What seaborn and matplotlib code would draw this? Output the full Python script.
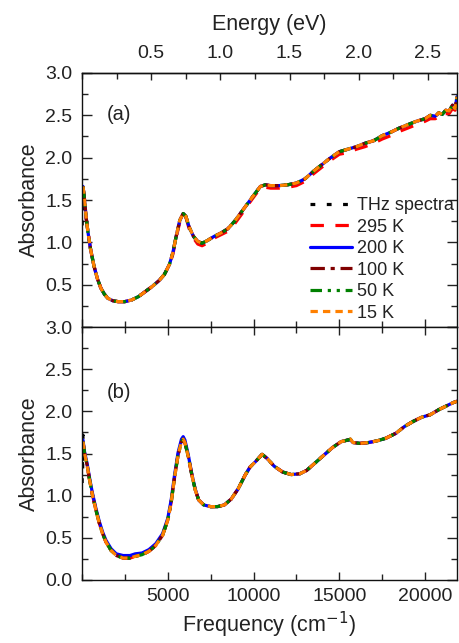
import matplotlib
matplotlib.use("Agg")
import matplotlib.pyplot as plt
import seaborn as sns
import pandas as pd
from matplotlib.ticker import MultipleLocator, FixedLocator, FuncFormatter

# ---------------- data ----------------
thz_freq = [10, 25, 40, 55, 70, 85, 100, 115]
a_thz = [1.20, 1.55, 1.35, 1.62, 1.40, 1.58, 1.50, 1.45]
b_thz = [1.15, 1.60, 1.30, 1.72, 1.40, 1.55, 1.45, 1.50]

a_freq = [60, 150, 250, 350, 500, 700, 900, 1100, 1300, 1500,
          1800, 2100, 2500, 2900, 3300, 3700, 4100, 4500, 4800, 5100,
          5300, 5500, 5700, 5900, 6050, 6250, 6500, 6750, 7000, 7300,
          7700, 8100, 8500, 8900, 9300, 9700, 10100, 10400, 10700, 11000,
          11500, 12000, 12500, 13000, 13500, 14000, 14500, 15000, 15500, 16000,
          16500, 17000, 17500, 18000, 18500, 19000, 19500, 20000, 20300, 20600,
          20800, 21000, 21200, 21400, 21600, 21750, 21860]
a_cold = [1.66, 1.50, 1.28, 1.12, 0.92, 0.72, 0.57, 0.46, 0.39, 0.34,
          0.31, 0.30, 0.30, 0.32, 0.36, 0.42, 0.48, 0.55, 0.62, 0.74,
          0.88, 1.08, 1.26, 1.34, 1.31, 1.18, 1.07, 1.01, 0.99, 1.02,
          1.07, 1.11, 1.16, 1.25, 1.36, 1.47, 1.58, 1.66, 1.68, 1.67,
          1.67, 1.68, 1.70, 1.75, 1.84, 1.92, 2.00, 2.07, 2.10, 2.13,
          2.17, 2.20, 2.26, 2.30, 2.35, 2.39, 2.43, 2.46, 2.50, 2.49,
          2.53, 2.51, 2.56, 2.55, 2.62, 2.58, 2.72]
a_295 = [1.66, 1.50, 1.28, 1.12, 0.92, 0.72, 0.57, 0.46, 0.39, 0.34,
         0.31, 0.30, 0.30, 0.32, 0.36, 0.42, 0.48, 0.55, 0.62, 0.73,
         0.86, 1.06, 1.24, 1.33, 1.30, 1.16, 1.05, 0.98, 0.96, 0.99,
         1.05, 1.09, 1.13, 1.22, 1.33, 1.45, 1.56, 1.64, 1.65, 1.64,
         1.64, 1.65, 1.67, 1.72, 1.81, 1.89, 1.97, 2.04, 2.06, 2.10,
         2.13, 2.17, 2.22, 2.26, 2.31, 2.35, 2.39, 2.43, 2.46, 2.46,
         2.49, 2.48, 2.52, 2.52, 2.58, 2.56, 2.66]

b_freq = [60, 150, 300, 450, 600, 800, 1000, 1200, 1400, 1700,
          2000, 2400, 2800, 3100, 3500, 3900, 4300, 4700, 5000, 5200,
          5400, 5600, 5800, 5900, 6000, 6200, 6400, 6600, 6800, 7100,
          7500, 7900, 8300, 8700, 9100, 9500, 9800, 10100, 10500, 10800,
          11200, 11700, 12200, 12700, 13100, 13600, 14100, 14600, 15100, 15500,
          15650, 15800, 16200, 16700, 17200, 17700, 18300, 18800, 19300, 19800,
          20300, 20800, 21200, 21600, 21860]
b_common = [1.64, 1.50, 1.36, 1.18, 1.02, 0.84, 0.68, 0.55, 0.45, 0.35,
            0.29, 0.26, 0.26, 0.28, 0.30, 0.34, 0.41, 0.53, 0.71, 0.92,
            1.22, 1.48, 1.64, 1.67, 1.63, 1.46, 1.25, 1.07, 0.95, 0.89,
            0.87, 0.87, 0.89, 0.96, 1.08, 1.24, 1.34, 1.40, 1.49, 1.44,
            1.35, 1.28, 1.25, 1.26, 1.30, 1.39, 1.48, 1.57, 1.64, 1.66,
            1.67, 1.63, 1.62, 1.63, 1.65, 1.68, 1.74, 1.82, 1.88, 1.93,
            1.96, 2.02, 2.06, 2.10, 2.12]
b_200 = [1.66, 1.52, 1.38, 1.20, 1.04, 0.86, 0.70, 0.57, 0.47, 0.37,
         0.31, 0.29, 0.29, 0.31, 0.32, 0.36, 0.43, 0.55, 0.73, 0.95,
         1.25, 1.51, 1.67, 1.70, 1.66, 1.48, 1.26, 1.08, 0.95, 0.89,
         0.87, 0.87, 0.89, 0.96, 1.08, 1.24, 1.34, 1.40, 1.49, 1.44,
         1.35, 1.28, 1.25, 1.26, 1.30, 1.39, 1.48, 1.57, 1.64, 1.66,
         1.66, 1.63, 1.62, 1.63, 1.65, 1.68, 1.74, 1.82, 1.88, 1.93,
         1.96, 2.02, 2.06, 2.10, 2.12]

labels = ["THz spectra", "295 K", "200 K", "100 K", "50 K", "15 K"]
panel_a = [(thz_freq, a_thz), (a_freq, a_295), (a_freq, a_cold),
           (a_freq, a_cold), (a_freq, a_cold), (a_freq, a_cold)]
panel_b = [(thz_freq, b_thz), (b_freq, b_common), (b_freq, b_200),
           (b_freq, b_common), (b_freq, b_common), (b_freq, b_common)]

colors = ["black", "#FF0000", "#0000FF", "#800000", "#008000", "#FF8000"]
linestyles = [(0, (1.5, 3.6)), (0, (4.2, 3.6)), "-", (0, (4.5, 1.8, 1.3, 1.8)),
              (0, (3.6, 1.8, 1, 1.8, 1, 1.8)), (0, (2.3, 1.6))]

# ---------------- style ----------------
sns.set_theme(style="ticks")
plt.rcParams["font.family"] = ["Liberation Sans", "DejaVu Sans"]
plt.rcParams["axes.linewidth"] = 1.0
txt = "#222222"
plt.rcParams["text.color"] = txt
plt.rcParams["axes.labelcolor"] = txt
plt.rcParams["xtick.color"] = txt
plt.rcParams["ytick.color"] = txt
plt.rcParams["axes.edgecolor"] = "#111111"

fig = plt.figure(figsize=(4.59, 6.43), dpi=100)
ax_a = fig.add_axes([0.1786, 0.4914, 0.817, 0.3951])
ax_b = fig.add_axes([0.1786, 0.0980, 0.817, 0.3934])

handles = []
for ax, series in ((ax_a, panel_a), (ax_b, panel_b)):
    for (fx, fy), lab, c, ls in zip(series, labels, colors, linestyles):
        df = pd.DataFrame({"freq": fx, "abs": fy})
        sns.lineplot(data=df, x="freq", y="abs", ax=ax, color=c, lw=2.3,
                     sort=False, estimator=None, legend=False)
        ln = ax.lines[-1]
        ln.set_linestyle(ls)
        if ax is ax_a:
            ln.set_label(lab)
            handles.append(ln)

for ax in (ax_a, ax_b):
    ax.set_xlim(0, 21860)
    ax.set_ylim(0, 3.0)
    ax.xaxis.set_major_locator(MultipleLocator(5000))
    ax.xaxis.set_minor_locator(MultipleLocator(2500))
    ax.yaxis.set_major_locator(MultipleLocator(0.5))
    ax.yaxis.set_minor_locator(MultipleLocator(0.25))
    ax.yaxis.set_major_formatter(FuncFormatter(lambda v, p: f"{v:.1f}"))
    ax.tick_params(axis="both", which="both", direction="in", right=True,
                   labelsize=14, width=1.0)
    ax.tick_params(axis="y", which="major", length=7, pad=7)
    ax.tick_params(axis="y", which="minor", length=4)
    ax.tick_params(axis="x", which="major", length=6, pad=6)
    ax.tick_params(axis="x", which="minor", length=4)
    ax.set_ylabel("Absorbance", fontsize=15.5, labelpad=4)
    ax.grid(False)

ax_a.tick_params(axis="x", which="both", top=False, labelbottom=False)
ax_a.yaxis.set_major_formatter(FuncFormatter(lambda v, p: "" if v < 0.25 else f"{v:.1f}"))
ax_a.set_xlabel("")
ax_b.tick_params(axis="x", which="both", top=True)
ax_b.set_xticks([5000, 10000, 15000, 20000])
ax_b.set_xlabel("Frequency (cm$^{-1}$)", fontsize=15.5, labelpad=3)

sec = ax_a.secondary_xaxis("top", functions=(lambda f: f / 8065.54, lambda e: e * 8065.54))
sec.xaxis.set_major_locator(FixedLocator([0.5, 1.0, 1.5, 2.0, 2.5]))
sec.xaxis.set_minor_locator(MultipleLocator(0.25))
sec.xaxis.set_major_formatter(FuncFormatter(lambda v, p: f"{v:.1f}"))
sec.tick_params(axis="x", which="both", direction="in", labelsize=14, width=1.0)
sec.tick_params(axis="x", which="major", length=5, pad=8)
sec.tick_params(axis="x", which="minor", length=4)
sec.set_xlabel("Energy (eV)", fontsize=15.5, labelpad=11)

ax_a.text(0.065, 0.835, "(a)", transform=ax_a.transAxes, fontsize=14.5, va="center")
ax_b.text(0.065, 0.74, "(b)", transform=ax_b.transAxes, fontsize=14.5, va="center")

ax_a.legend(handles=handles, labels=labels, loc="lower right",
            bbox_to_anchor=(1.0, 0.01), frameon=False, fontsize=13,
            handlelength=2.3, handletextpad=0.3, labelspacing=0.25,
            borderaxespad=0.0, borderpad=0.15)

fig.savefig("out.png", dpi=100)
